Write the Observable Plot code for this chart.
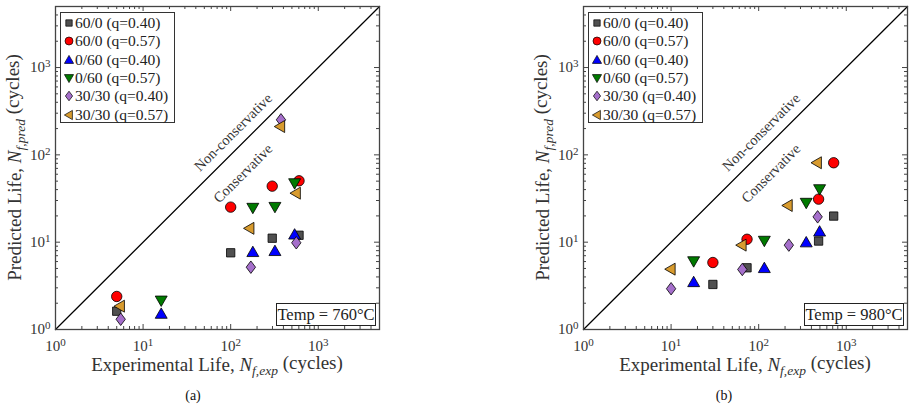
<!DOCTYPE html>
<html>
<head>
<meta charset="utf-8">
<script src="https://cdn.jsdelivr.net/npm/d3@7"></script>
<script src="https://cdn.jsdelivr.net/npm/@observablehq/plot@0.6"></script>
<style>
  body { margin: 0; background: #fff; }
  #wrap { position: relative; width: 914px; height: 410px; font-family: "Liberation Serif", "DejaVu Serif", serif; }
  .panel { position: absolute; top: 0; }
  .legend { position: absolute; top: 12px; width: 115px; height: 111px; border: 1px solid #333; background: #fff; box-sizing: border-box; padding-top: 1px; }
  .legend .row { height: 18.3px; display: flex; align-items: center; font-size: 15.5px; color: #222; white-space: nowrap; }
  .legend svg { margin-left: 3px; margin-right: 1px; }
  .temp { position: absolute; top: 303px; height: 23px; border: 1px solid #222; background: #fff; font-size: 16.5px; color: #222; line-height: 21px; box-sizing: border-box; text-align: center; white-space: nowrap; }
  .cap { position: absolute; top: 388px; font-size: 14px; color: #111; transform: translateX(-50%); }
  svg text.lab { font-family: "Liberation Serif", serif !important; }
</style>
</head>
<body>
<div id="wrap"></div>
<script>
// ---- data ----
const seriesNames = ["60/0 (q=0.40)", "60/0 (q=0.57)", "0/60 (q=0.40)", "0/60 (q=0.57)", "30/30 (q=0.40)", "30/30 (q=0.57)"];
const seriesColors = ["#505050", "#ff0000", "#0000ff", "#007a00", "#a56fcb", "#d89b2e"];

// Panel (a) Temp = 760°C
const seriesA = [0,0,0,0, 1,1,1,1, 2,2,2,2, 3,3,3,3, 4,4,4,4, 5,5,5,5];
const expA  = [5,100,298,603, 5,100,298,603, 16.1,179,320,537, 16.1,179,320,537, 5.55,170,375,561, 5.45,164,368,556];
const predA = [1.62,7.56,11.1,12.0, 2.39,25.2,43.8,50.5, 1.51,7.69,7.9,12.2, 2.15,24.8,25.4,47.4, 1.31,5.17,252,9.84, 1.85,14.4,211,36.4];

// Panel (b) Temp = 980°C
const seriesB = [0,0,0,0, 1,1,1,1, 2,2,2,2, 3,3,3,3, 4,4,4,4, 5,5,5,5];
const expB  = [30,73.6,483,718, 30,73.6,483,718, 18.1,116,349,496, 18.1,116,349,496, 10,65,221,471, 9.9,64,215,463];
const predB = [3.28,5.09,10.3,19.9, 5.85,10.8,31.1,81.2, 3.48,5.04,9.93,13.2, 6.06,10.4,28.3,40.5, 2.93,4.87,9.25,19.5, 4.91,9.25,26.3,81.2];

const decadeTicks = [1, 10, 100, 1000];
const axisDomain = [1, 5000];
const diagonal = [1, 5000];

// ---- symbols ----
function mk(fn) { return { draw(ctx, size) { fn(ctx, Math.sqrt(size / Math.PI)); } }; }
const symSquare = mk((c, R) => { const h = 0.8 * R; c.moveTo(-h, -h); c.lineTo(h, -h); c.lineTo(h, h); c.lineTo(-h, h); c.closePath(); });
const symCircle = mk((c, R) => { c.moveTo(R, 0); c.arc(0, 0, R, 0, 2 * Math.PI); c.closePath(); });
const symUp = mk((c, R) => { c.moveTo(0, -1.15 * R); c.lineTo(1.15 * R, 0.85 * R); c.lineTo(-1.15 * R, 0.85 * R); c.closePath(); });
const symDown = mk((c, R) => { c.moveTo(0, 1.15 * R); c.lineTo(1.15 * R, -0.85 * R); c.lineTo(-1.15 * R, -0.85 * R); c.closePath(); });
const symDiamond = mk((c, R) => { c.moveTo(0, -1.2 * R); c.lineTo(0.9 * R, 0); c.lineTo(0, 1.2 * R); c.lineTo(-0.9 * R, 0); c.closePath(); });
const symLeft = mk((c, R) => { c.moveTo(-1.15 * R, 0); c.lineTo(0.85 * R, -1.15 * R); c.lineTo(0.85 * R, 1.15 * R); c.closePath(); });
const symbols = [symSquare, symCircle, symUp, symDown, symDiamond, symLeft];

const minorTicks = [];
for (let k = 0; k < 4; k++) for (let m = 2; m <= 9; m++) { const v = m * 10 ** k; if (v < 5000) minorTicks.push(v); }

const SERIF = "'Liberation Serif', 'DejaVu Serif', serif";
const W = 457, H = 379;
function makePanel(series, exp, pred, ml, mr) {
  const mt = 6, mb = 50;
  const pw = W - ml - mr, ph = H - mt - mb;
  const rows = series.map((s, i) => ({ s, x: exp[i], y: pred[i] }));
  const tickStyle = { stroke: "#444", strokeWidth: 1 };
  const marks = [
    Plot.tickX(decadeTicks, { x: d => d, insetTop: ph - 5, ...tickStyle }),
    Plot.tickX(decadeTicks, { x: d => d, insetBottom: ph - 5, ...tickStyle }),
    Plot.tickX(minorTicks, { x: d => d, insetTop: ph - 3, ...tickStyle }),
    Plot.tickX(minorTicks, { x: d => d, insetBottom: ph - 3, ...tickStyle }),
    Plot.tickY(decadeTicks, { y: d => d, insetRight: pw - 5, ...tickStyle }),
    Plot.tickY(decadeTicks, { y: d => d, insetLeft: pw - 5, ...tickStyle }),
    Plot.tickY(minorTicks, { y: d => d, insetRight: pw - 3, ...tickStyle }),
    Plot.tickY(minorTicks, { y: d => d, insetLeft: pw - 3, ...tickStyle }),
    Plot.axisX({ ticks: decadeTicks, tickSize: 0, tickPadding: 11, label: null, fontSize: 15, fill: "#333", tickFormat: d => "10^" + Math.round(Math.log10(d)) }),
    Plot.axisY({ ticks: decadeTicks, tickSize: 0, tickPadding: 5, label: null, fontSize: 15, fill: "#333", tickFormat: d => "10^" + Math.round(Math.log10(d)) }),
    Plot.line(diagonal.map(v => [v, v]), { stroke: "black", strokeWidth: 1.3 }),
    Plot.text(["Non-conservative"], { x: 139, y: 139, dx: -10, dy: -10, rotate: -45, fontSize: 14.5, fill: "#333" }),
    Plot.text(["Conservative"], { x: 92, y: 92, dx: 15.5, dy: 15.5, rotate: -45, fontSize: 14.5, fill: "#333" }),
    ...symbols.map((sym, i) => Plot.dot(rows.filter(d => d.s === i), { x: "x", y: "y", symbol: sym, r: 5.2, fill: seriesColors[i], stroke: "black", strokeWidth: 0.8 })),
    Plot.frame({ stroke: "#444", strokeWidth: 1.3 })
  ];
  const svg = Plot.plot({
    width: W, height: H, marginTop: mt, marginBottom: mb, marginLeft: ml, marginRight: mr,
    x: { type: "log", domain: axisDomain, axis: null },
    y: { type: "log", domain: axisDomain, axis: null },
    style: { fontFamily: SERIF, fontSize: "14px", background: "white", overflow: "visible" },
    marks
  });
  svg.querySelectorAll('g[aria-label$="tick label"] text').forEach(t => {
    const m = /^10\^(\d+)$/.exec(t.textContent);
    if (!m) return;
    t.textContent = "10";
    const sup = document.createElementNS("http://www.w3.org/2000/svg", "tspan");
    sup.setAttribute("dy", "-0.45em");
    sup.setAttribute("font-size", "11");
    sup.textContent = m[1];
    t.appendChild(sup);
  });
  const s = d3.select(svg);
  const cx = ml + pw / 2, cy = mt + ph / 2;
  const xl = s.append("text").attr("class", "lab").attr("x", cx).attr("y", 371).attr("text-anchor", "middle")
    .style("font-family", SERIF).style("font-size", "19px").attr("fill", "#333");
  xl.append("tspan").text("Experimental Life, ");
  xl.append("tspan").style("font-style", "italic").text("N");
  xl.append("tspan").style("font-style", "italic").style("font-size", "13.5px").attr("dy", "0.3em").text("f,exp");
  xl.append("tspan").attr("dy", "-0.3em").text(" (cycles)");
  const yl = s.append("text").attr("class", "lab").attr("transform", `translate(${ml - 34},${cy}) rotate(-90)`).attr("text-anchor", "middle")
    .style("font-family", SERIF).style("font-size", "19px").attr("fill", "#333");
  yl.append("tspan").text("Predicted Life, ");
  yl.append("tspan").style("font-style", "italic").text("N");
  yl.append("tspan").style("font-style", "italic").style("font-size", "13.5px").attr("dy", "0.3em").text("f,pred");
  yl.append("tspan").attr("dy", "-0.3em").text(" (cycles)");
  return svg;
}

const wrap = document.getElementById("wrap");
function addPanel(svg, left, legendLeft, tempLeft, tempText, capX, capText) {
  const div = document.createElement("div");
  div.className = "panel";
  div.style.left = left + "px";
  div.appendChild(svg);
  wrap.appendChild(div);
  const lg = document.createElement("div");
  lg.className = "legend";
  lg.style.left = legendLeft + "px";
  seriesNames.forEach((name, i) => {
    const row = document.createElement("div");
    row.className = "row";
    const R = 4;
    const path = d3.symbol().type(symbols[i]).size(Math.PI * R * R)();
    row.innerHTML = `<svg width="10" height="12" viewBox="-5 -6 10 12"><path d="${path}" fill="${seriesColors[i]}" stroke="black" stroke-width="0.7"/></svg><span>${name}</span>`;
    lg.appendChild(row);
  });
  wrap.appendChild(lg);
  const tp = document.createElement("div");
  tp.className = "temp";
  tp.style.left = tempLeft + "px";
  tp.style.width = "100px";
  tp.textContent = tempText;
  wrap.appendChild(tp);
  const cap = document.createElement("div");
  cap.className = "cap";
  cap.style.left = capX + "px";
  cap.textContent = capText;
  wrap.appendChild(cap);
}

addPanel(makePanel(seriesA, expA, predA, 55, 78), 0, 60, 276, "Temp = 760°C", 193, "(a)");
addPanel(makePanel(seriesB, expB, predB, 126, 7), 457, 588, 804, "Temp = 980°C", 724, "(b)");
</script>
</body>
</html>
